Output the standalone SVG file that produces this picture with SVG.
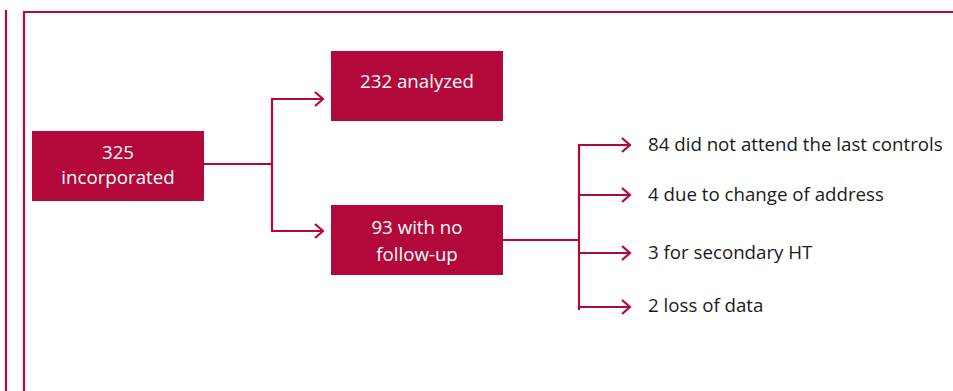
<svg xmlns="http://www.w3.org/2000/svg" width="953" height="391" viewBox="0 0 953 391">
<style>
.box{fill:#b3093a}
.ln{fill:none;stroke:#b3093a;stroke-width:2.2}
.wt{fill:#ffffff;font-family:"Open Sans","Noto Sans",sans-serif;font-size:18.7px;text-anchor:middle}
.bt{fill:#1a1a1a;font-family:"Open Sans","Noto Sans",sans-serif;font-size:18.7px}
</style>
<defs>
<marker id="arr" markerWidth="12" markerHeight="18" refX="10" refY="9" orient="auto" markerUnits="userSpaceOnUse">
<path d="M2,2 L10,9 L2,16" fill="none" stroke="#b3093a" stroke-width="2.2"/>
</marker>
</defs>
<g id="frame">
<line class="ln" x1="6" y1="10" x2="6" y2="391"/>
<polyline class="ln" points="24,391 24,12 953,12"/>
</g>
<g id="connectors">
<polyline class="ln" points="204,164 272,164"/>
<polyline class="ln" points="272,99 272,231"/>
<line class="ln" x1="271" y1="99" x2="323" y2="99" marker-end="url(#arr)"/>
<line class="ln" x1="271" y1="231" x2="323" y2="231" marker-end="url(#arr)"/>
<polyline class="ln" points="503,240 579,240"/>
<polyline class="ln" points="579,144 579,310"/>
<line class="ln" x1="578" y1="145" x2="630" y2="145" marker-end="url(#arr)"/>
<line class="ln" x1="578" y1="195" x2="630" y2="195" marker-end="url(#arr)"/>
<line class="ln" x1="578" y1="253" x2="630" y2="253" marker-end="url(#arr)"/>
<line class="ln" x1="578" y1="307" x2="630" y2="307" marker-end="url(#arr)"/>
</g>
<g id="n1">
<rect class="box" x="32" y="131" width="172" height="70"/>
<text class="wt" x="118" y="159">325</text>
<text class="wt" x="118" y="184">incorporated</text>
</g>
<g id="n2">
<rect class="box" x="331" y="51" width="172" height="70"/>
<text class="wt" x="417" y="88">232 analyzed</text>
</g>
<g id="n3">
<rect class="box" x="331" y="205" width="172" height="70"/>
<text class="wt" x="417" y="234">93 with no</text>
<text class="wt" x="417" y="261">follow-up</text>
</g>
<g id="t1"><text class="bt" x="648" y="151">84 did not attend the last controls</text></g>
<g id="t2"><text class="bt" x="648" y="201">4 due to change of address</text></g>
<g id="t3"><text class="bt" x="648" y="259">3 for secondary HT</text></g>
<g id="t4"><text class="bt" x="648" y="312">2 loss of data</text></g>
</svg>
